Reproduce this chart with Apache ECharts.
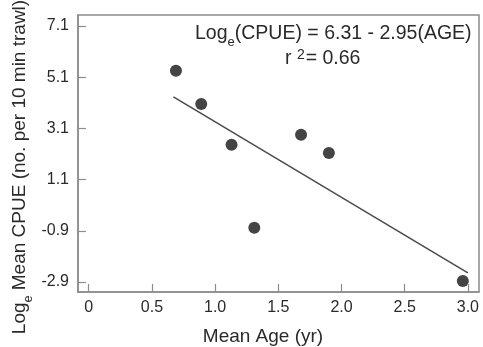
<!DOCTYPE html>
<html>
<head>
<meta charset="utf-8">
<style>
  html, body { margin: 0; padding: 0; background: #fff; }
  #chart { width: 483px; height: 347px; }
</style>
<script src="https://cdn.jsdelivr.net/npm/echarts@6/dist/echarts.min.js"></script>
</head>
<body>
<div id="chart"></div>
<script>
// Mean age of each sample (yr) and log_e of mean CPUE (no. per 10 min trawl)
const meanAge = [0.69, 0.89, 1.13, 1.31, 1.68, 1.90, 2.96];
const logCpue = [5.35, 4.05, 2.46, -0.78, 2.85, 2.14, -2.86];

// Fitted regression: Log_e(CPUE) = intercept - slope * AGE
const intercept = 6.31;
const slope = 2.95;
const rSquared = 0.66;
const fitRange = [0.67, 3.0];

// Tick labels
const xTicks = [0, 0.5, 1.0, 1.5, 2.0, 2.5, 3.0];
const yTicks = [-2.9, -0.9, 1.1, 3.1, 5.1, 7.1];

const FONT = '"Liberation Sans", Arial, sans-serif';
const AXIS_COLOR = '#8c8c8c';
const TEXT_COLOR = '#2a2a2a';

const fitLine = fitRange.map(x => [x, intercept - slope * x]);

const chart = echarts.init(document.getElementById('chart'), null, { renderer: 'canvas' });

chart.setOption({
  animation: false,
  backgroundColor: '#ffffff',
  grid: {
    left: 78, top: 15, right: 4, bottom: 55,
    show: true, borderColor: AXIS_COLOR, borderWidth: 1.5, backgroundColor: 'transparent'
  },
  xAxis: {
    type: 'value',
    min: -0.085, max: 3.088,
    splitLine: { show: false },
    axisLine: { onZero: false, lineStyle: { color: AXIS_COLOR, width: 1.5 } },
    axisTick: {
      inside: true, length: 8,
      customValues: xTicks,
      lineStyle: { color: AXIS_COLOR, width: 1.2 }
    },
    axisLabel: {
      customValues: xTicks,
      margin: 8,
      fontFamily: FONT, fontSize: 16, color: TEXT_COLOR,
      formatter: v => (v === 0 ? '0' : v.toFixed(1))
    }
  },
  yAxis: {
    type: 'value',
    min: -3.29, max: 7.53,
    splitLine: { show: false },
    axisLine: { show: true, onZero: false, lineStyle: { color: AXIS_COLOR, width: 1.5 } },
    axisTick: {
      show: true, inside: true, length: 8,
      customValues: yTicks,
      lineStyle: { color: AXIS_COLOR, width: 1.2 }
    },
    axisLabel: {
      customValues: yTicks,
      margin: 9,
      fontFamily: FONT, fontSize: 16, color: TEXT_COLOR,
      formatter: v => v.toFixed(1)
    }
  },
  series: [
    {
      type: 'line',
      data: fitLine,
      symbol: 'none',
      lineStyle: { color: '#4a4a4a', width: 1.5 },
      z: 2
    },
    {
      type: 'scatter',
      data: meanAge.map((x, i) => [x, logCpue[i]]),
      symbol: 'circle',
      symbolSize: 12,
      itemStyle: { color: '#151515' },
      z: 3
    }
  ],
  graphic: [
    {
      type: 'text',
      left: 195, top: 24,
      style: {
        text: '{b|Log}{s|e}{b|(CPUE) = ' + intercept.toFixed(2) + ' - ' + slope.toFixed(2) + '(AGE)}',
        rich: {
          b: { fontFamily: FONT, fontSize: 19.5, fill: TEXT_COLOR, verticalAlign: 'bottom' },
          s: { fontFamily: FONT, fontSize: 13, fill: TEXT_COLOR, verticalAlign: 'bottom', padding: [0, 0, -5, 0] }
        }
      }
    },
    {
      type: 'text',
      left: 285, top: 48,
      style: {
        text: '{b|r }{p|2}{b|= ' + rSquared.toFixed(2) + '}',
        rich: {
          b: { fontFamily: FONT, fontSize: 19.5, fill: TEXT_COLOR, verticalAlign: 'bottom' },
          p: { fontFamily: FONT, fontSize: 14, fill: TEXT_COLOR, verticalAlign: 'bottom', padding: [0, 1, 7, 0] }
        }
      }
    },
    {
      type: 'text',
      x: 263, y: 337,
      style: {
        text: 'Mean Age (yr)',
        fontFamily: FONT, fontSize: 19, fill: TEXT_COLOR,
        align: 'center', verticalAlign: 'middle'
      }
    },
    {
      type: 'text',
      x: 20, y: 167,
      rotation: Math.PI / 2,
      style: {
        text: '{b|Log}{s|e}{b| Mean CPUE (no. per 10 min trawl)}',
        align: 'center', verticalAlign: 'middle',
        rich: {
          b: { fontFamily: FONT, fontSize: 19, fill: TEXT_COLOR, verticalAlign: 'bottom' },
          s: { fontFamily: FONT, fontSize: 12.5, fill: TEXT_COLOR, verticalAlign: 'bottom', padding: [0, 0, -6, 0] }
        }
      }
    }
  ]
});
</script>
</body>
</html>
